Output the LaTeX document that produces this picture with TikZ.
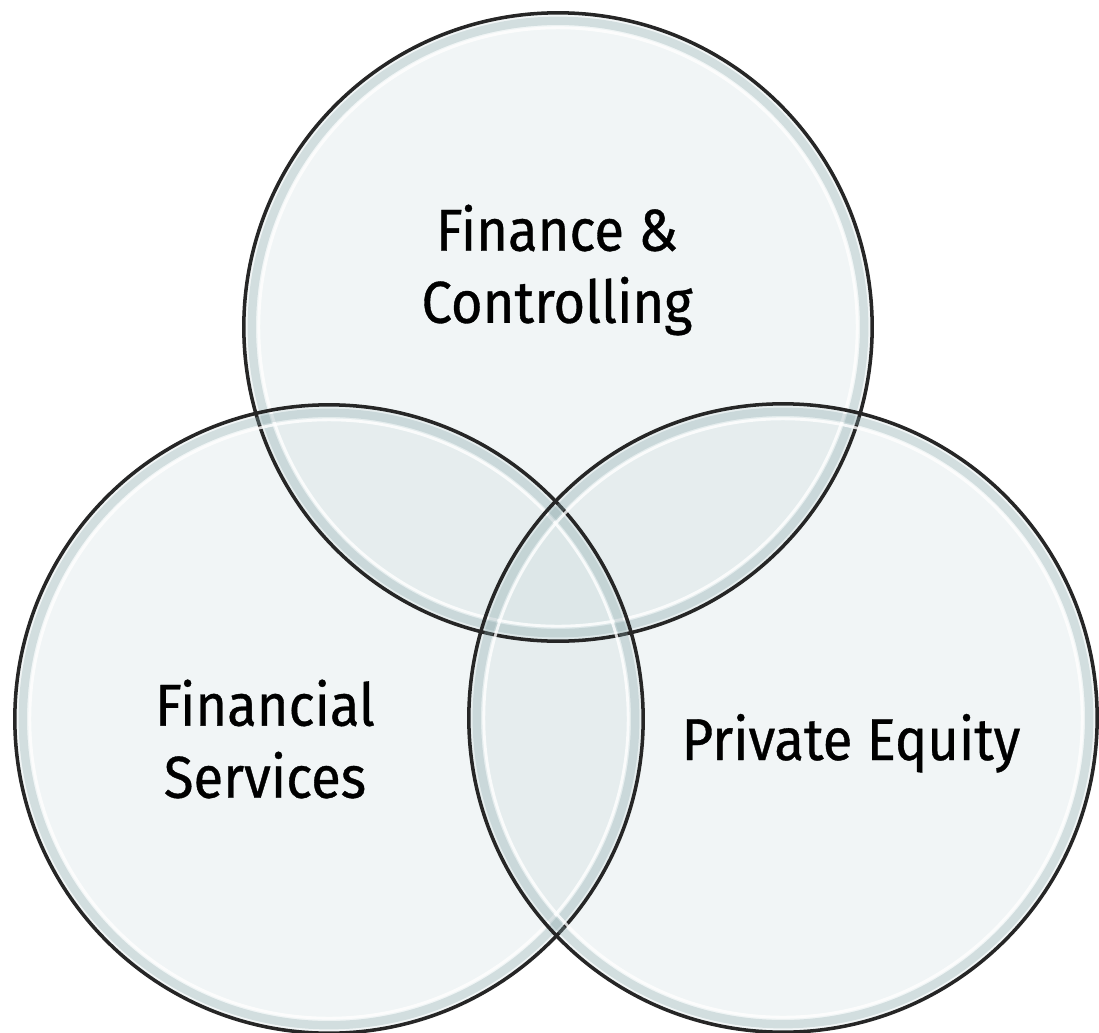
\documentclass[tikz,border=0pt]{standalone}
\usepackage{fontspec}
\setsansfont[FakeStretch=0.92,FakeBold=0.6]{Fira Sans}
\definecolor{bubblefill}{RGB}{190,210,212}
\definecolor{bubblerim}{RGB}{140,168,172}
\begin{document}
\begin{tikzpicture}[x=0.01cm,y=-0.01cm,
  bubble/.style={circle,draw=none,fill=bubblefill,fill opacity=0.22,minimum size=6.28cm,inner sep=0pt},
  rimshade/.style={circle,draw=bubblerim,draw opacity=0.3,line width=2.4pt,minimum size=6.12cm,inner sep=0pt},
  rimlight/.style={circle,draw=white,draw opacity=0.8,line width=0.8pt,minimum size=5.98cm,inner sep=0pt},
  rimline/.style={circle,draw=black!85,line width=1pt,minimum size=6.28cm,inner sep=0pt},
  venntext/.style={font=\sffamily\fontsize{16.8}{20.5}\selectfont,align=center,text=black,inner sep=0pt}]
\useasboundingbox (0,0) rectangle (1099,1033);
% the three circles
\foreach \name/\cx/\cy in {fc/558/327,fs/329/719,pe/783/718}{
  \node[bubble] (\name) at (\cx,\cy) {};
}
\foreach \name in {fc,fs,pe}{
  \node[rimshade] at (\name) {};
  \node[rimlight] at (\name) {};
  \node[rimline] at (\name) {};
}
% labels
\node[venntext] (fctext) at (557,270) {Finance \&\\Controlling};
\node[venntext] (fstext) at (265,739) {Financial\\Services};
\node[venntext,anchor=base] (petext) at (851,760) {Private Equity};
\end{tikzpicture}
\end{document}
